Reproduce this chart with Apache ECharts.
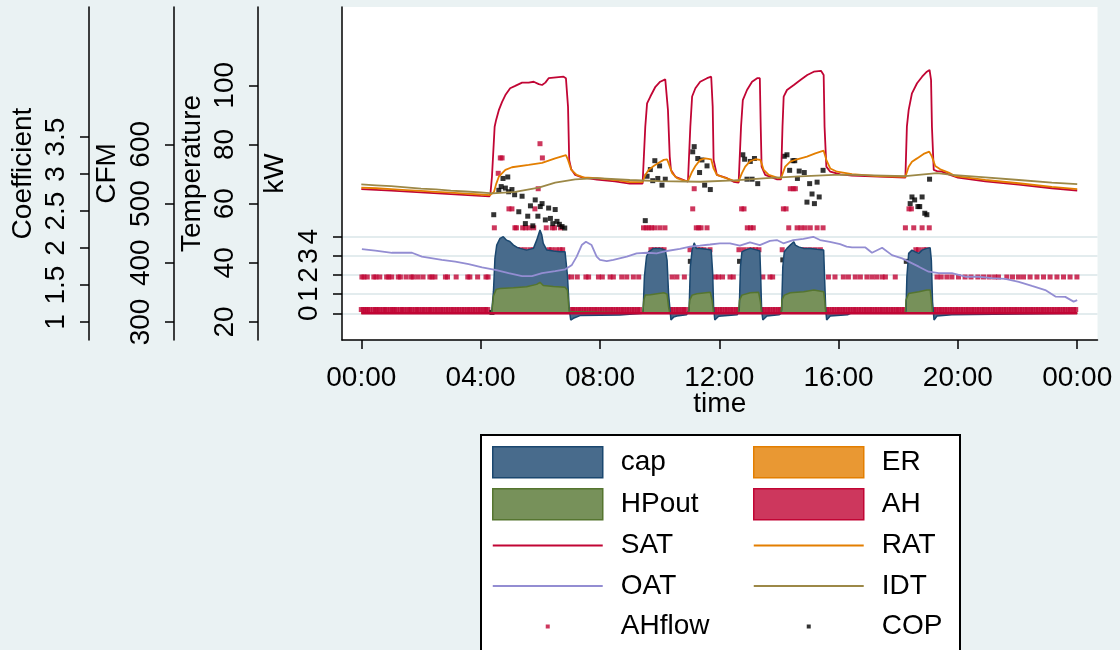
<!DOCTYPE html>
<html>
<head>
<meta charset="utf-8">
<script src="https://cdn.jsdelivr.net/npm/echarts@6/dist/echarts.min.js"></script>
<style>
  html, body { margin: 0; padding: 0; background: #eaf2f3; }
  #chart { width: 1120px; height: 650px; }
</style>
</head>
<body>
<div id="chart"></div>
<script>
// ---- data: time in hours since midnight ----
const timeTicks = [0, 4, 8, 12, 16, 20, 24];
const kwTicks = [0, 1, 2, 3, 4];
const tempTicks = [20, 40, 60, 80, 100];
const cfmTicks = [300, 400, 500, 600];
const coefTicks = [1, 1.5, 2, 2.5, 3, 3.5];

// heat pump capacity (kW)
const cap = [[0,0],[4.30,0],[4.37,0.05],[4.43,1.13],[4.48,2.87],[4.54,3.56],[4.65,3.91],[4.76,4.0],[4.87,3.82],[4.98,3.75],[5.10,3.56],[5.21,3.45],[5.32,3.39],[5.54,3.30],[5.77,3.39],[5.88,3.82],[5.99,4.35],[6.05,4.1],[6.10,3.65],[6.22,3.30],[6.44,3.25],[6.66,3.21],[6.83,3.21],[6.91,2.0],[6.97,0.26],[7.02,-0.35],[7.11,-0.26],[7.33,-0.12],[8.67,-0.09],[8.7,0],[9.43,0],
  [9.45,0.17],[9.49,1.91],[9.56,2.95],[9.63,3.21],[9.80,3.39],[10.02,3.39],[10.19,3.30],[10.25,2.78],[10.30,1.04],[10.36,0],[10.38,-0.35],[10.47,-0.2],[10.58,-0.14],[10.9,-0.08],[10.95,0],
  [10.99,0.17],[11.03,2.43],[11.09,3.30],[11.16,3.68],[11.23,3.39],[11.36,3.39],[11.59,3.34],[11.73,3.30],[11.78,2.09],[11.81,0.34],[11.85,-0.35],[11.98,-0.15],[12.6,-0.08],[12.65,0],
  [12.67,0.17],[12.71,2.43],[12.76,3.21],[12.87,3.30],[13.04,3.39],[13.27,3.30],[13.36,3.25],[13.39,1.91],[13.42,0.17],[13.46,-0.35],[13.60,-0.14],[14.0,-0.08],[14.07,0],
  [14.09,0.17],[14.13,2.43],[14.18,3.21],[14.27,3.39],[14.38,3.56],[14.50,3.74],[14.55,3.56],[14.66,3.47],[14.83,3.39],[15.05,3.39],[15.28,3.34],[15.50,3.30],[15.53,1.91],[15.57,0.17],[15.60,-0.35],[15.72,-0.14],[16.3,-0.08],[16.4,0],[18.24,0],
  [18.26,0.17],[18.29,1.91],[18.35,3.13],[18.46,3.30],[18.57,3.21],[18.69,3.13],[18.80,3.30],[18.96,3.39],[19.07,3.42],[19.11,2.78],[19.15,0.6],[19.20,-0.35],[19.30,-0.14],[19.8,-0.08],[19.85,0],[24,0]];

// heat pump output (kW)
const hpOut = [[0,0],[4.37,0],[4.43,0.9],[4.52,1.25],[4.65,1.30],[5.10,1.34],[5.54,1.39],[5.88,1.51],[5.99,1.62],[6.10,1.45],[6.44,1.40],[6.83,1.36],[6.91,1.2],[6.97,0.1],[7.0,0],[9.43,0],
  [9.45,0.3],[9.47,0.69],[9.52,0.95],[9.69,0.97],[10.14,1.07],[10.25,1.0],[10.30,0.34],[10.34,0],[10.97,0],
  [10.99,0.3],[11.01,0.69],[11.09,0.95],[11.25,1.02],[11.70,1.10],[11.76,0.69],[11.81,0],[12.64,0],
  [12.66,0.3],[12.68,0.69],[12.76,0.95],[13.04,1.07],[13.32,1.10],[13.38,0.6],[13.42,0],[14.07,0],
  [14.09,0.3],[14.10,0.69],[14.18,0.95],[14.38,1.07],[14.83,1.13],[15.17,1.22],[15.50,1.13],[15.54,0.6],[15.57,0],[18.23,0],
  [18.25,0.3],[18.26,0.69],[18.35,1.04],[18.69,1.13],[18.96,1.22],[19.07,1.22],[19.11,0.69],[19.15,0],[24,0]];

// electric resistance and auxiliary heat (kW)
const er = [[0,0],[24,0]];
const ah = [[0,0],[24,0]];

// supply air temperature
const sat = [[0,64.9],[1.0,64.4],[2.0,63.8],[3.0,63.2],[4.0,62.6],[4.30,62.5],[4.33,63.5],[4.38,69.1],[4.47,86.0],[4.52,88.3],[4.61,91.6],[4.72,94.4],[4.83,96.7],[4.99,99.0],[5.16,99.8],[5.39,100.9],[5.61,100.9],[5.78,101.2],[5.95,100.4],[6.06,100.1],[6.17,100.9],[6.28,102.4],[6.78,102.9],[6.86,102.4],[6.93,92.8],[6.97,74.7],[7.04,71.6],[7.17,69.7],[7.40,68.9],[7.9,68.1],[8.5,67.5],[9.0,66.8],[9.43,66.8],
  [9.52,86.0],[9.58,93.9],[9.69,96.2],[9.86,99.5],[10.02,101.2],[10.19,102.0],[10.25,101.8],[10.28,91.7],[10.34,75.9],[10.38,71.4],[10.53,69.1],[10.81,68.0],[10.95,67.4],
  [11.03,86.0],[11.09,96.2],[11.20,99.0],[11.36,101.2],[11.59,102.4],[11.73,102.9],[11.78,92.8],[11.81,74.8],[11.92,69.7],[12.26,68.6],[12.48,67.4],[12.65,67.1],
  [12.73,86.0],[12.79,95.0],[12.93,98.4],[13.10,101.2],[13.27,102.4],[13.36,102.4],[13.39,86.0],[13.42,72.5],[13.54,69.7],[13.94,68.2],[14.07,68.2],
  [14.12,86.0],[14.16,96.2],[14.27,98.4],[14.50,100.1],[14.72,101.8],[14.95,103.5],[15.17,104.6],[15.41,104.9],[15.50,103.5],[15.53,86.0],[15.59,72.5],[15.72,70.8],[16.06,69.9],[16.45,69.5],[18.24,68.8],
  [18.29,86.0],[18.35,91.7],[18.46,97.3],[18.63,100.7],[18.80,102.9],[18.96,104.6],[19.05,105.2],[19.10,101.8],[19.13,86.0],[19.19,71.4],[19.30,71.0],[19.47,70.8],[19.69,69.9],[20.0,68.8],[20.92,67.5],[22.04,66.4],[23.15,65.2],[24.0,64.4]];

// return air temperature
const rat = [[0,65.4],[0.5,65.2],[1.0,64.9],[1.5,64.6],[2.0,64.3],[2.5,64.0],[3.0,63.7],[3.5,63.4],[4.0,63.1],[4.32,62.9],
  [4.45,64.0],[4.52,66.6],[4.61,69.1],[4.83,71.4],[5.05,72.3],[5.61,73.1],[6.06,73.8],[6.50,75.3],[6.86,76.4],[6.93,74.8],[7.04,71.4],[7.22,69.7],[7.45,68.9],[7.90,68.6],[8.5,68.0],[9.0,67.3],[9.43,67.3],
  [9.52,69.7],[9.63,71.4],[9.80,72.7],[9.97,73.8],[10.14,74.8],[10.25,75.0],[10.30,73.7],[10.42,70.3],[10.58,68.6],[10.81,67.8],[10.95,67.6],
  [11.09,70.8],[11.20,72.7],[11.36,74.8],[11.53,75.3],[11.73,75.0],[11.81,71.9],[11.92,69.7],[12.15,68.9],[12.48,67.8],[12.65,67.6],
  [12.76,70.3],[12.87,72.5],[13.04,74.4],[13.21,75.0],[13.38,74.8],[13.49,71.4],[13.66,69.7],[13.99,68.6],[14.07,68.6],
  [14.21,72.5],[14.38,74.2],[14.61,75.0],[14.94,75.9],[15.22,77.0],[15.50,77.9],[15.59,74.8],[15.72,71.9],[15.95,70.8],[16.45,70.0],[17.3,69.3],[18.24,69.1],
  [18.35,72.5],[18.46,74.2],[18.63,75.3],[18.85,76.8],[19.04,77.6],[19.13,75.9],[19.24,72.7],[19.41,71.6],[19.69,70.5],[19.91,69.3],[20.92,68.0],[22.04,66.9],[23.15,65.7],[24.0,64.9]];

// outdoor air temperature
const oat = [[0.02,44.6],[0.47,44.1],[1.03,43.4],[1.70,43.4],[2.03,42.1],[2.70,41.0],[3.15,40.4],[3.60,39.6],[4.05,38.5],[4.49,37.6],[4.94,36.5],[5.39,35.5],[5.72,35.5],[6.06,36.5],[6.50,37.2],[6.84,37.8],[7.06,39.3],[7.22,42.1],[7.39,46.0],[7.53,47.1],[7.72,46.0],[7.89,42.1],[8.00,41.0],[8.23,40.6],[8.45,41.0],[8.90,42.1],[9.23,43.2],[9.57,43.4],[9.90,43.2],[10.24,44.0],[10.68,44.7],
  [11.02,45.5],[11.35,45.8],[11.69,46.2],[12.02,46.6],[12.36,46.6],[12.69,45.8],[13.03,46.9],[13.36,46.0],[13.70,47.4],[13.93,47.7],[14.15,46.6],[14.48,47.7],[14.82,48.1],[15.15,48.8],[15.38,47.7],[15.71,47.1],[16.05,46.3],[16.27,45.5],[16.45,45.2],[16.90,45.2],[17.12,43.4],[17.46,45.1],[17.79,42.6],[18.13,41.5],[18.35,40.4],[18.69,38.7],[19.02,37.0],[19.36,36.5],[19.80,36.5],[20.25,35.3],[20.70,35.3],[21.14,34.8],[21.59,34.6],[22.04,33.6],[22.48,32.2],[22.93,30.8],[23.27,28.6],[23.60,28.5],[23.88,26.9],[24.0,27.4]];

// indoor temperature
const idt = [[0,66.5],[0.5,66.2],[1.0,65.9],[1.5,65.5],[2.0,65.1],[2.5,64.8],[3.0,64.4],[3.5,64.1],[4.0,63.8],[4.4,63.5],[5.16,64.0],[5.95,65.4],[6.50,67.1],[7.17,68.2],[7.9,68.6],[9.0,68.0],[10.0,67.6],[11.37,67.4],[12.5,67.9],[13.6,68.6],[14.7,69.2],[15.85,69.7],[16.45,69.7],[18.24,69.3],[19.30,70.3],[19.8,69.7],[20.92,68.9],[22.04,68.0],[23.15,67.1],[24.0,66.6]];

// air handler flow (CFM)
const ahFlow = [
  [0.0,321],[0.07,321],[0.14,321],[0.21,321],[0.28,321],[0.4,321],[0.47,321],[0.54,321],[0.61,321],[0.72,321],[0.79,321],[0.86,321],[0.97,321],[1.04,321],[1.11,321],[1.18,321],[1.3,321],[1.37,321],[1.44,321],[1.55,321],[1.62,321],[1.69,321],[1.8,321],[1.87,321],[1.94,321],[2.05,321],[2.12,321],[2.23,321],[2.3,321],[2.37,321],[2.48,321],[2.55,321],[2.66,321],[2.73,321],[2.84,321],[2.91,321],[3.02,321],[3.09,321],[3.2,321],[3.27,321],[3.38,321],[3.45,321],[3.56,321],[3.63,321],[3.74,321],[3.81,321],[3.92,321],[3.99,321],[4.1,321],[4.17,321],[4.24,321],
  [7.02,321],[7.1,321],[7.17,321],[7.28,321],[7.35,321],[7.46,321],[7.53,321],[7.64,321],[7.71,321],[7.82,321],[7.89,321],[8.0,321],[8.07,321],[8.18,321],[8.25,321],[8.36,321],[8.43,321],[8.54,321],[8.61,321],[8.72,321],[8.79,321],[8.9,321],[8.97,321],[9.08,321],[9.15,321],[9.26,321],[9.33,321],
  [10.38,321],[10.45,321],[10.56,321],[10.63,321],[10.74,321],[10.81,321],[10.9,321],
  [11.84,321],[11.91,321],[12.02,321],[12.09,321],[12.2,321],[12.27,321],[12.38,321],[12.45,321],[12.56,321],[12.62,321],
  [13.44,321],[13.51,321],[13.62,321],[13.69,321],[13.8,321],[13.87,321],[13.98,321],[14.04,321],
  [15.6,321],[15.67,321],[15.78,321],[15.85,321],[15.96,321],[16.03,321],[16.14,321],[16.21,321],[16.32,321],[16.39,321],[16.5,321],[16.57,321],[16.68,321],[16.75,321],[16.86,321],[16.93,321],[17.04,321],[17.11,321],[17.22,321],[17.29,321],[17.4,321],[17.47,321],[17.58,321],[17.65,321],[17.76,321],[17.83,321],[17.94,321],[18.01,321],[18.12,321],[18.19,321],
  [19.2,321],[19.27,321],[19.38,321],[19.45,321],[19.56,321],[19.63,321],[19.74,321],[19.81,321],[19.92,321],[19.99,321],[20.1,321],[20.17,321],[20.28,321],[20.35,321],[20.46,321],[20.53,321],[20.64,321],[20.71,321],[20.82,321],[20.89,321],[21.0,321],[21.07,321],[21.18,321],[21.25,321],[21.36,321],[21.43,321],[21.54,321],[21.61,321],[21.72,321],[21.79,321],[21.9,321],[21.97,321],[22.08,321],[22.15,321],[22.26,321],[22.33,321],[22.44,321],[22.51,321],[22.62,321],[22.69,321],[22.8,321],[22.87,321],[22.98,321],[23.05,321],[23.16,321],[23.23,321],[23.34,321],[23.41,321],[23.52,321],[23.59,321],[23.7,321],[23.77,321],[23.88,321],[23.95,321],
  [0.02,376],[0.09,376],[0.2,376],[0.42,376],[0.49,376],[0.62,376],[0.85,376],[0.92,376],[1.02,376],[1.24,376],[1.31,376],[1.5,376],[1.67,376],[1.74,376],[1.9,376],[2.07,376],[2.3,376],[2.37,376],[2.47,376],[2.82,376],[2.89,376],[3.18,376],[3.57,376],[3.64,376],[3.9,376],[4.18,376],[4.25,376],
  [6.92,376],[7.05,376],[7.24,376],[7.53,376],[7.62,376],[7.95,376],[8.08,376],[8.34,376],[8.45,376],[8.73,376],[8.9,376],[9.12,376],[9.3,376],
  [10.42,376],[10.58,376],[10.83,376],[11.86,376],[11.97,376],[12.11,376],[12.36,376],[12.47,376],[13.46,376],[13.7,376],[13.79,376],
  [15.66,376],[15.88,376],[16.16,376],[16.33,376],[16.56,376],[16.73,376],[16.95,376],[17.12,376],[17.28,376],[17.46,376],[17.57,376],[17.9,376],
  [19.3,376],[19.44,376],[19.63,376],[19.8,376],[20.02,376],[20.24,376],[20.44,376],[20.67,376],[20.86,376],[21.05,376],[21.23,376],[21.36,376],[21.64,376],[21.83,376],[22.03,376],[22.2,376],[22.42,376],[22.65,376],[22.87,376],[23.09,376],[23.32,376],[23.54,376],[23.76,376],[23.99,376],
  [5.23,422],[5.34,422],[5.49,422],[5.66,422],[5.79,422],[6.29,422],[6.38,422],[6.53,422],[6.66,422],[6.75,422],[9.71,422],[9.82,422],[9.93,422],[10.04,422],[10.15,422],[11.02,422],[11.27,422],[11.38,422],[11.49,422],[11.69,422],[12.66,422],[12.82,422],[12.99,422],[13.10,422],[13.21,422],[13.33,422],[14.11,422],[14.74,422],[14.88,422],[15.05,422],[15.22,422],[15.39,422],[18.59,422],[18.68,422],[18.85,422],[18.96,422],
  [4.46,459],[5.15,459],[5.20,459],[5.41,459],[5.50,459],[5.63,459],[5.78,459],[6.20,459],[6.40,459],[6.48,459],[6.68,459],[9.46,459],[9.55,459],[9.64,459],[9.73,459],[9.84,459],[10.01,459],[10.18,459],[11.23,459],[11.31,459],[11.39,459],[11.59,459],[12.94,459],[13.05,459],[13.14,459],[14.33,459],[14.61,459],[14.74,459],[14.88,459],[15.05,459],[15.28,459],[15.48,459],[18.24,459],[18.52,459],[18.80,459],[19.04,459],
  [4.95,491],[5.05,491],[5.82,491],[11.11,491],[12.75,491],[12.83,491],[14.15,491],[14.24,491],[18.36,491],[18.44,491],
  [5.93,525],[11.16,525],[14.38,525],[14.48,525],[14.55,525],
  [4.59,551],[4.66,577],[4.72,577],[6.07,577],[5.99,601]];

// coefficient of performance
const cop = [[4.38,1.13],[4.44,2.45],[4.61,2.78],[4.69,2.83],[4.75,2.94],[4.83,2.81],[4.91,2.96],[4.94,2.76],[5.05,2.79],[5.14,2.72],[5.28,2.49],[5.39,2.70],[5.50,2.33],[5.58,2.43],[5.67,2.57],[5.75,2.30],[5.83,2.65],[5.92,2.43],[6.00,2.56],[6.06,2.60],[6.17,2.38],[6.28,2.54],[6.34,2.40],[6.42,2.33],[6.50,2.52],[6.56,2.36],[6.64,2.32],[6.73,2.29],[6.82,2.27],
  [9.52,2.37],[9.58,2.97],[9.69,3.06],[9.77,2.91],[9.84,3.18],[9.94,2.94],[10.00,3.11],[10.08,2.85],[10.19,2.93],
  [11.03,1.82],[11.11,3.30],[11.16,3.37],[11.28,3.21],[11.34,3.02],[11.42,3.19],[11.51,2.85],[11.59,3.11],[11.70,2.79],
  [12.68,1.82],[12.79,3.26],[12.85,3.20],[12.93,2.93],[13.04,3.17],[13.10,2.93],[13.18,3.21],[13.29,2.87],
  [14.13,1.84],[14.18,3.24],[14.27,3.26],[14.36,3.05],[14.47,3.18],[14.53,3.18],[14.62,2.94],[14.68,3.04],[14.85,3.02],[14.94,2.62],[15.03,2.87],[15.11,2.73],[15.19,2.60],[15.28,2.89],[15.35,2.69],[15.48,3.05],
  [18.27,1.82],[18.40,2.60],[18.46,2.69],[18.55,2.65],[18.66,2.56],[18.72,2.56],[18.80,2.69],[18.89,2.47],[18.96,2.45],[19.05,2.93]];

// ---- styling ----
const FONT = 'Liberation Sans, Arial, sans-serif';
const C = {
  navy: '#1a476f', navyFill: '#486b8c',
  green: '#55752f', greenFill: '#77915a',
  orange: '#e37e00', orangeFill: '#e99833',
  cran: '#c10534', cranFill: '#cd375d',
  lav: '#938dd2', brown: '#9c8847', black: '#000'
};

function hhmm(v) {
  const h = Math.round(v) % 24;
  return (h < 10 ? '0' : '') + h + ':00';
}

function yAxis(name, min, max, ticks, offset, gap, grid) {
  return {
    type: 'value', position: 'left', offset: offset, min: min, max: max,
    name: name, nameLocation: 'middle', nameRotate: 90, nameGap: gap, nameMoveOverlap: false,
    nameTextStyle: { fontSize: 28, color: '#000', fontFamily: FONT },
    axisLine: { show: true, onZero: false, lineStyle: { color: '#000', width: 1.5 } },
    axisTick: { show: true, length: 9, customValues: ticks, lineStyle: { color: '#000', width: 1.5 } },
    axisLabel: { rotate: 90, margin: 19, fontSize: 28, color: '#000', fontFamily: FONT,
      customValues: ticks, formatter: v => String(v) },
    splitLine: grid ? { show: true, lineStyle: { color: '#e3ecee', width: 2 } } : { show: false }
  };
}

function areaSeries(name, data, line, fill, width) {
  return {
    name: name, type: 'line', yAxisIndex: 0, data: data, symbol: 'none',
    lineStyle: { color: line, width: width || 1.5 }, itemStyle: { color: line },
    areaStyle: { color: fill, opacity: 1 }
  };
}

function lineSeries(name, data, color) {
  return {
    name: name, type: 'line', yAxisIndex: 1, data: data, symbol: 'none',
    lineStyle: { color: color, width: 1.8 }, itemStyle: { color: color }
  };
}

// legend keys drawn inside a 110 x 31 box
const dotIcon = 'path://M0,0h0.01v0.01h-0.01zM110,31h0.01v0.01h-0.01zM53,13.5h4v4h-4z';
const lineIcon = 'path://M0,0h0.01v0.01h-0.01zM110,31h0.01v0.01h-0.01zM0,14.6h110v1.9h-110z';

const legendCommon = {
  orient: 'vertical', top: 446, padding: 0, itemWidth: 110, itemHeight: 31, itemGap: 9.5,
  selectedMode: false,
  textStyle: { fontSize: 28, color: '#000', fontFamily: FONT, lineHeight: 31, padding: [0, 0, 0, 13] }
};

const chart = echarts.init(document.getElementById('chart'), null, { renderer: 'canvas' });
chart.setOption({
  animation: false,
  backgroundColor: '#eaf2f3',
  grid: { left: 342, right: 22.5, top: 7, bottom: 310, show: true, backgroundColor: '#ffffff', borderWidth: 0,
    containLabel: false, outerBoundsMode: 'none' },
  xAxis: {
    type: 'value', min: -0.647, max: 24.68,
    name: 'time', nameLocation: 'middle', nameGap: 50, nameMoveOverlap: false,
    nameTextStyle: { fontSize: 28, color: '#000', fontFamily: FONT },
    axisLine: { show: true, onZero: false, lineStyle: { color: '#000', width: 1.5 } },
    axisTick: { show: true, length: 9, customValues: timeTicks, lineStyle: { color: '#000', width: 1.5 } },
    axisLabel: { margin: 24, fontSize: 28, color: '#000', fontFamily: FONT, customValues: timeTicks, formatter: hhmm },
    splitLine: { show: false }
  },
  yAxis: [
    yAxis('kW', -1.394, 15.995, kwTicks, 0, 53, true),
    yAxis('Temperature', 13.92, 126.46, tempTicks, 84, 52, false),
    yAxis('CFM', 269.6, 831.8, cfmTicks, 168, 53, false),
    yAxis('Coefficient', 0.757, 5.257, coefTicks, 253, 52, false)
  ],
  legend: [
    Object.assign({}, legendCommon, { left: 492, data: [
      { name: 'cap', icon: 'rect', itemStyle: { color: C.navyFill, borderColor: C.navy, borderWidth: 1.5 } },
      { name: 'HPout', icon: 'rect', itemStyle: { color: C.greenFill, borderColor: C.green, borderWidth: 1.5 } },
      { name: 'SAT', icon: lineIcon, itemStyle: { color: C.cran, borderWidth: 0 } },
      { name: 'OAT', icon: lineIcon, itemStyle: { color: C.lav, borderWidth: 0 } },
      { name: 'AHflow', icon: dotIcon, itemStyle: { color: C.cran, borderWidth: 0 } }
    ] }),
    Object.assign({}, legendCommon, { left: 753, data: [
      { name: 'ER', icon: 'rect', itemStyle: { color: C.orangeFill, borderColor: C.orange, borderWidth: 1.5 } },
      { name: 'AH', icon: 'rect', itemStyle: { color: C.cranFill, borderColor: C.cran, borderWidth: 1.5 } },
      { name: 'RAT', icon: lineIcon, itemStyle: { color: C.orange, borderWidth: 0 } },
      { name: 'IDT', icon: lineIcon, itemStyle: { color: C.brown, borderWidth: 0 } },
      { name: 'COP', icon: dotIcon, itemStyle: { color: C.black, borderWidth: 0 } }
    ] })
  ],
  graphic: [{
    type: 'rect', z: 1, left: 480, top: 434,
    shape: { width: 479, height: 240 },
    style: { fill: '#ffffff', stroke: '#000', lineWidth: 2 }
  }],
  series: [
    areaSeries('cap', cap, C.navy, C.navyFill),
    areaSeries('HPout', hpOut, C.green, C.greenFill),
    areaSeries('ER', er, C.orange, C.orangeFill),
    areaSeries('AH', ah, C.cran, C.cranFill, 2.5),
    lineSeries('SAT', sat, C.cran),
    lineSeries('RAT', rat, C.orange),
    lineSeries('OAT', oat, C.lav),
    lineSeries('IDT', idt, C.brown),
    { name: 'AHflow', type: 'scatter', yAxisIndex: 2, data: ahFlow, symbol: 'rect', symbolSize: 5,
      itemStyle: { color: C.cran } },
    { name: 'COP', type: 'scatter', yAxisIndex: 3, data: cop, symbol: 'rect', symbolSize: 5,
      itemStyle: { color: C.black } }
  ]
});
</script>
</body>
</html>
